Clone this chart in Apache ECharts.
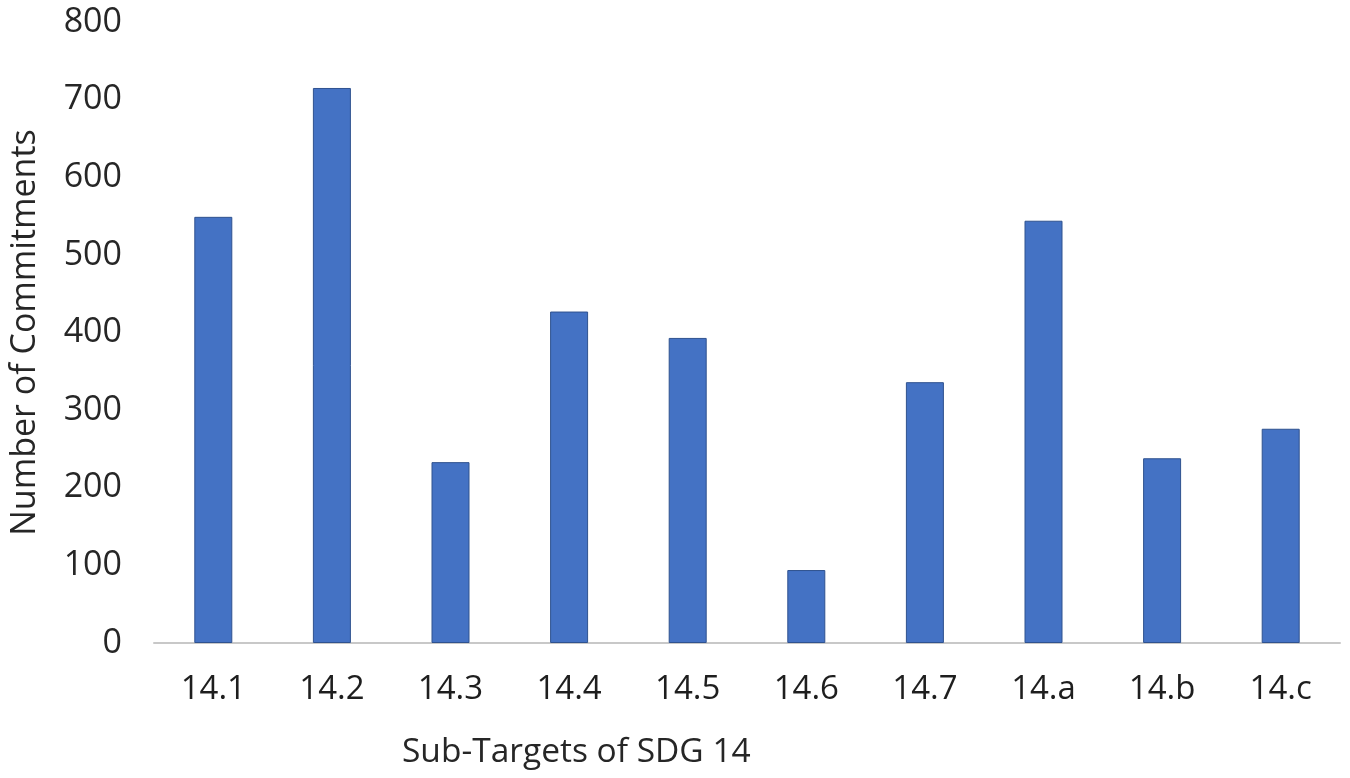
<!DOCTYPE html>
<html>
<head>
<meta charset="utf-8">
<script src="https://cdn.jsdelivr.net/npm/echarts@6/dist/echarts.min.js"></script>
<style>
html,body{margin:0;padding:0;background:#fff;}
#chart{width:1350px;height:778px;}
</style>
</head>
<body>
<div id="chart"></div>
<script>
const categories = ['14.1','14.2','14.3','14.4','14.5','14.6','14.7','14.a','14.b','14.c'];
const commitments = [549, 715, 233, 427, 393, 94, 336, 544, 238, 276];
const yTicks = [0, 100, 200, 300, 400, 500, 600, 700, 800];
const xAxisTitle = 'Sub-Targets of SDG 14';
const yAxisTitle = 'Number of Commitments';

const FONT = 'Open Sans';
const chart = echarts.init(document.getElementById('chart'), null, {renderer:'canvas'});
chart.setOption({
  backgroundColor: '#ffffff',
  animation: false,
  title: {
    text: xAxisTitle,
    left: 402,
    top: 735,
    padding: 0,
    textStyle: {fontFamily: FONT, fontSize: 33.5, fontWeight: 'normal', color: '#262626'}
  },
  grid: {left: 145, right: 10, top: 22, bottom: 135, containLabel: false},
  xAxis: {
    type: 'category',
    data: categories,
    axisLine: {show: true, lineStyle: {color: '#c8c8c8', width: 2}},
    axisTick: {show: false},
    axisLabel: {fontFamily: FONT, fontSize: 33, color: '#1e1e1e', margin: 30}
  },
  yAxis: {
    type: 'value',
    min: yTicks[0],
    max: yTicks[yTicks.length - 1],
    interval: 100,
    name: yAxisTitle,
    nameLocation: 'middle',
    nameGap: 112,
    nameRotate: 90,
    nameTextStyle: {fontFamily: FONT, fontSize: 34, color: '#262626'},
    axisLine: {show: false},
    axisTick: {show: false},
    splitLine: {show: false},
    axisLabel: {fontFamily: FONT, fontSize: 34, color: '#262626', margin: 32}
  },
  series: [{
    type: 'bar',
    data: commitments,
    barWidth: 38,
    itemStyle: {color: '#4472C4', borderColor: '#2f528f', borderWidth: 1}
  }]
});
</script>
</body>
</html>
